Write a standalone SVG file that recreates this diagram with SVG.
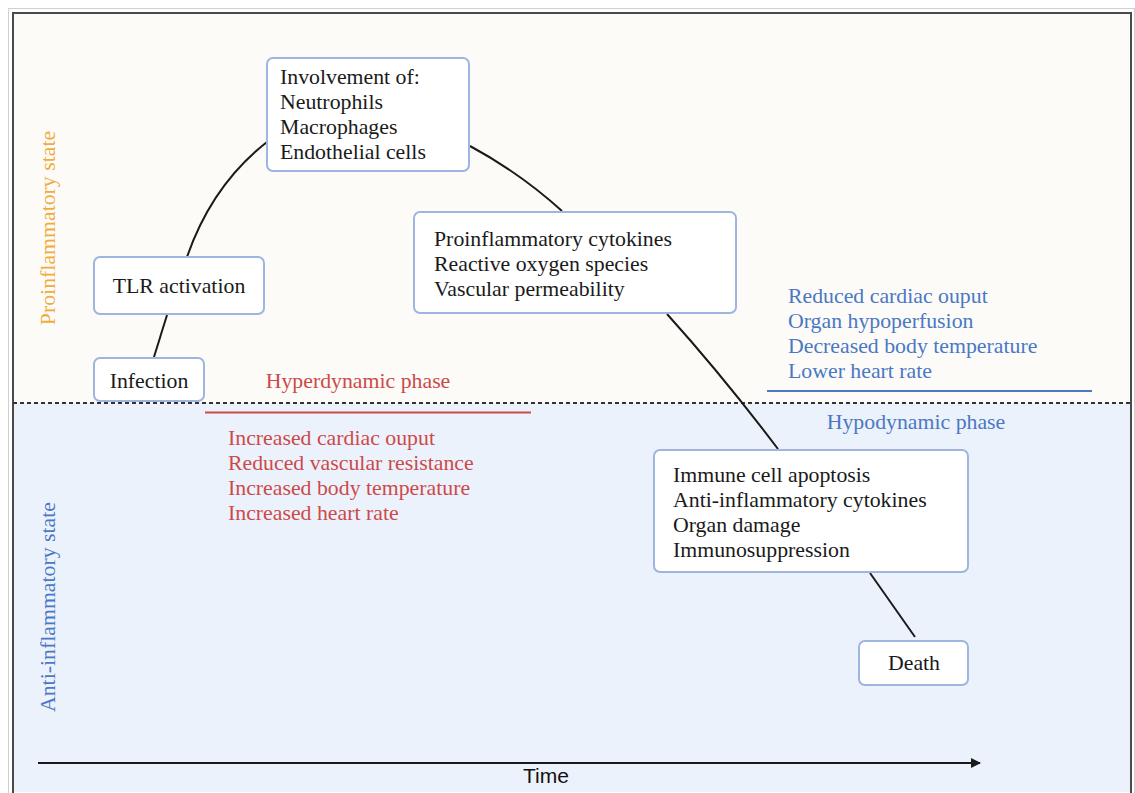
<svg xmlns="http://www.w3.org/2000/svg" width="1135" height="793" viewBox="0 0 1135 793">
<defs>
<style>
.box{fill:#ffffff;stroke:#9db5df;stroke-width:2}
.t{font-family:"Liberation Serif","Times New Roman",serif;font-size:21.8px;fill:#1a1a1a}
.red{font-family:"Liberation Serif","Times New Roman",serif;font-size:21.8px;fill:#cc4a4a}
.blue{font-family:"Liberation Serif","Times New Roman",serif;font-size:21.8px;fill:#4a78c4}
.orange{font-family:"Liberation Serif","Times New Roman",serif;font-size:21.8px;fill:#f0ac3e}
.link{fill:none;stroke:#1a1a1a;stroke-width:2}
</style>
<marker id="arr" viewBox="0 0 10 10" refX="9" refY="5" markerWidth="5" markerHeight="5" orient="auto" markerUnits="strokeWidth">
<path d="M0,0 L10,5 L0,10 z" fill="#1a1a1a"/>
</marker>
</defs>
<rect x="0" y="0" width="1135" height="793" fill="#ffffff"/>
<rect x="8.5" y="8.5" width="1126" height="790" fill="none" stroke="#d0d0d0" stroke-width="1"/>
<rect x="13" y="13" width="1118" height="390" fill="#fcfbf8"/>
<rect x="13" y="403" width="1118" height="389" fill="#ecf2fb"/>
<rect x="13" y="13" width="1118" height="790" fill="none" stroke="#4a4a4a" stroke-width="2"/>
<line x1="13" y1="403" x2="1133" y2="403" stroke="#333" stroke-width="2" stroke-dasharray="4,3"/>

<g id="labels">
<text class="orange" transform="translate(55,228) rotate(-90)" text-anchor="middle">Proinflammatory state</text>
<text class="blue" transform="translate(55,607) rotate(-90)" text-anchor="middle">Anti-inflammatory state</text>
<text class="red" x="358" y="388" text-anchor="middle">Hyperdynamic phase</text>
<line x1="205" y1="412.5" x2="531" y2="412.5" stroke="#cc4a4a" stroke-width="2"/>
<text class="red" x="228" y="445">Increased cardiac ouput</text>
<text class="red" x="228" y="470">Reduced vascular resistance</text>
<text class="red" x="228" y="495">Increased body temperature</text>
<text class="red" x="228" y="520">Increased heart rate</text>
<text class="blue" x="788" y="303">Reduced cardiac ouput</text>
<text class="blue" x="788" y="328">Organ hypoperfusion</text>
<text class="blue" x="788" y="353">Decreased body temperature</text>
<text class="blue" x="788" y="378">Lower heart rate</text>
<line x1="767" y1="391" x2="1092" y2="391" stroke="#4a78c4" stroke-width="2"/>
<text class="blue" x="916" y="429" text-anchor="middle">Hypodynamic phase</text>
<line x1="38" y1="763" x2="980" y2="763" stroke="#1a1a1a" stroke-width="2" marker-end="url(#arr)"/>
<text x="546" y="783" text-anchor="middle" style="font-family:'Liberation Sans',Arial,sans-serif;font-size:21px;fill:#111">Time</text>
</g>

<g id="connectors">
<path class="link" d="M154,357 L167,315"/>
<path class="link" d="M187,257 Q212,185 267,142"/>
<path class="link" d="M470,146 Q520,173 562,211"/>
<path class="link" d="M667,314 Q722,375 778,449"/>
<path class="link" d="M870,573 L915,637"/>
</g>

<g id="infection">
<rect class="box" x="94" y="358" width="110" height="43" rx="6"/>
<text class="t" x="149" y="388" text-anchor="middle">Infection</text>
</g>
<g id="tlr">
<rect class="box" x="94" y="257" width="170" height="57" rx="6"/>
<text class="t" x="179" y="293" text-anchor="middle">TLR activation</text>
</g>
<g id="involvement">
<rect class="box" x="267" y="58" width="202" height="113" rx="6"/>
<text class="t" x="280" y="84">Involvement of:</text>
<text class="t" x="280" y="109">Neutrophils</text>
<text class="t" x="280" y="134">Macrophages</text>
<text class="t" x="280" y="159">Endothelial cells</text>
</g>
<g id="proinflammatory">
<rect class="box" x="414" y="212" width="322" height="101" rx="6"/>
<text class="t" x="434" y="246">Proinflammatory cytokines</text>
<text class="t" x="434" y="271">Reactive oxygen species</text>
<text class="t" x="434" y="296">Vascular permeability</text>
</g>
<g id="immune">
<rect class="box" x="654" y="450" width="314" height="122" rx="6"/>
<text class="t" x="673" y="482">Immune cell apoptosis</text>
<text class="t" x="673" y="507">Anti-inflammatory cytokines</text>
<text class="t" x="673" y="532">Organ damage</text>
<text class="t" x="673" y="557">Immunosuppression</text>
</g>
<g id="death">
<rect class="box" x="859" y="641" width="109" height="44" rx="6"/>
<text class="t" x="914" y="670" text-anchor="middle">Death</text>
</g>
</svg>
